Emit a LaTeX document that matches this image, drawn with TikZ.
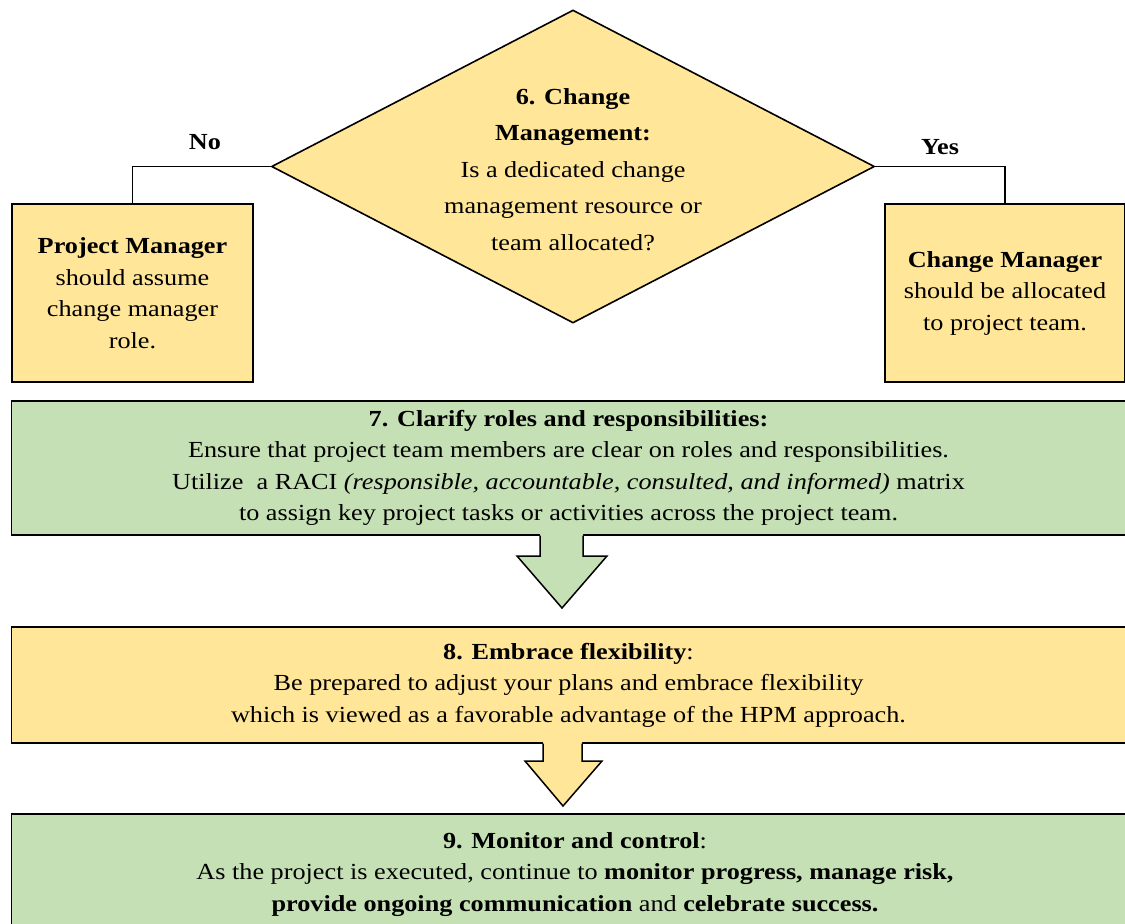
\documentclass[tikz,border=0pt]{standalone}
\usepackage{fontspec}
\setmainfont{Liberation Serif}[FakeStretch=1.14]
\usetikzlibrary{shapes.geometric}
\definecolor{ylw}{HTML}{FFE699}
\definecolor{grn}{HTML}{C5E0B4}
\begin{document}
\begin{tikzpicture}[x=1pt,y=-1pt,
  box/.style={draw=black,line width=1.6pt,inner sep=0pt,align=center,font=\fontsize{23}{31.5}\selectfont},
  lbl/.style={font=\fontsize{23}{31.5}\selectfont\bfseries},
  conn/.style={draw=black,line width=1.5pt},
  blk/.style={draw=black,line width=1.5pt,line join=miter}]
\useasboundingbox (0,0) rectangle (1125,924);
% diamond
\node[diamond,draw=black,line width=1.6pt,fill=ylw,minimum width=603pt,minimum height=313pt,inner sep=0pt] (d) at (573,166.5) {};
\node[align=center,font=\fontsize{23}{36.5}\selectfont] (dt) at (573,169.5) {\textbf{6. Change}\\\textbf{Management:}\\Is a dedicated change\\management resource or\\team allocated?};
% side boxes
\node[box,fill=ylw,minimum width=241pt,minimum height=178pt] (pm) at (132.5,293) {\textbf{Project Manager}\\should assume\\change manager\\role.};
\node[box,fill=ylw,minimum width=240pt,minimum height=178pt] (cm) at (1005,293) {\textbf{Change Manager}\\should be allocated\\to project team.};
\draw[conn] (d.west) -| (pm.north);
\draw[conn] (d.east) -| (cm.north);
\node[lbl] (no) at (205,142) {No};
\node[lbl] (yes) at (940,147) {Yes};
% box 7
\node[box,fill=grn,minimum width=1114pt,minimum height=134pt] (b7) at (568.5,468) {\textbf{7. Clarify roles and responsibilities:}\\Ensure that project team members are clear on roles and responsibilities.\\Utilize~ a RACI \textit{(responsible, accountable, consulted, and informed)} matrix\\to assign key project tasks or activities across the project team.};
% box 8
\node[box,fill=ylw,minimum width=1114pt,minimum height=116pt] (b8) at (568.5,685) {\textbf{8. Embrace flexibility}:\\Be prepared to adjust your plans and embrace flexibility\\which is viewed as a favorable advantage of the HPM approach.};
% box 9
\node[box,fill=grn,minimum width=1114pt,minimum height=130pt] (b9) at (568.5,879) {};
\node[align=center,font=\fontsize{23}{31.5}\selectfont] (b9t) at (575,874.5) {\textbf{9. Monitor and control}:\\As the project is executed, continue to \textbf{monitor progress, manage risk,}\\\textbf{provide ongoing communication} and \textbf{celebrate success.}};
% block arrow 7 -> 8
\fill[grn] (540,534) -- (540,556) -- (517,556) -- (562,608) -- (607,556) -- (583,556) -- (583,534) -- cycle;
\draw[blk] (540,535.5) -- (540,556) -- (517,556) -- (562,608) -- (607,556) -- (583,556) -- (583,535.5);
% block arrow 8 -> 9
\fill[ylw] (543,742) -- (543,761) -- (525,761) -- (563,806) -- (602,761) -- (582,761) -- (582,742) -- cycle;
\draw[blk] (543,743.5) -- (543,761) -- (525,761) -- (563,806) -- (602,761) -- (582,761) -- (582,743.5);
\end{tikzpicture}
\end{document}
